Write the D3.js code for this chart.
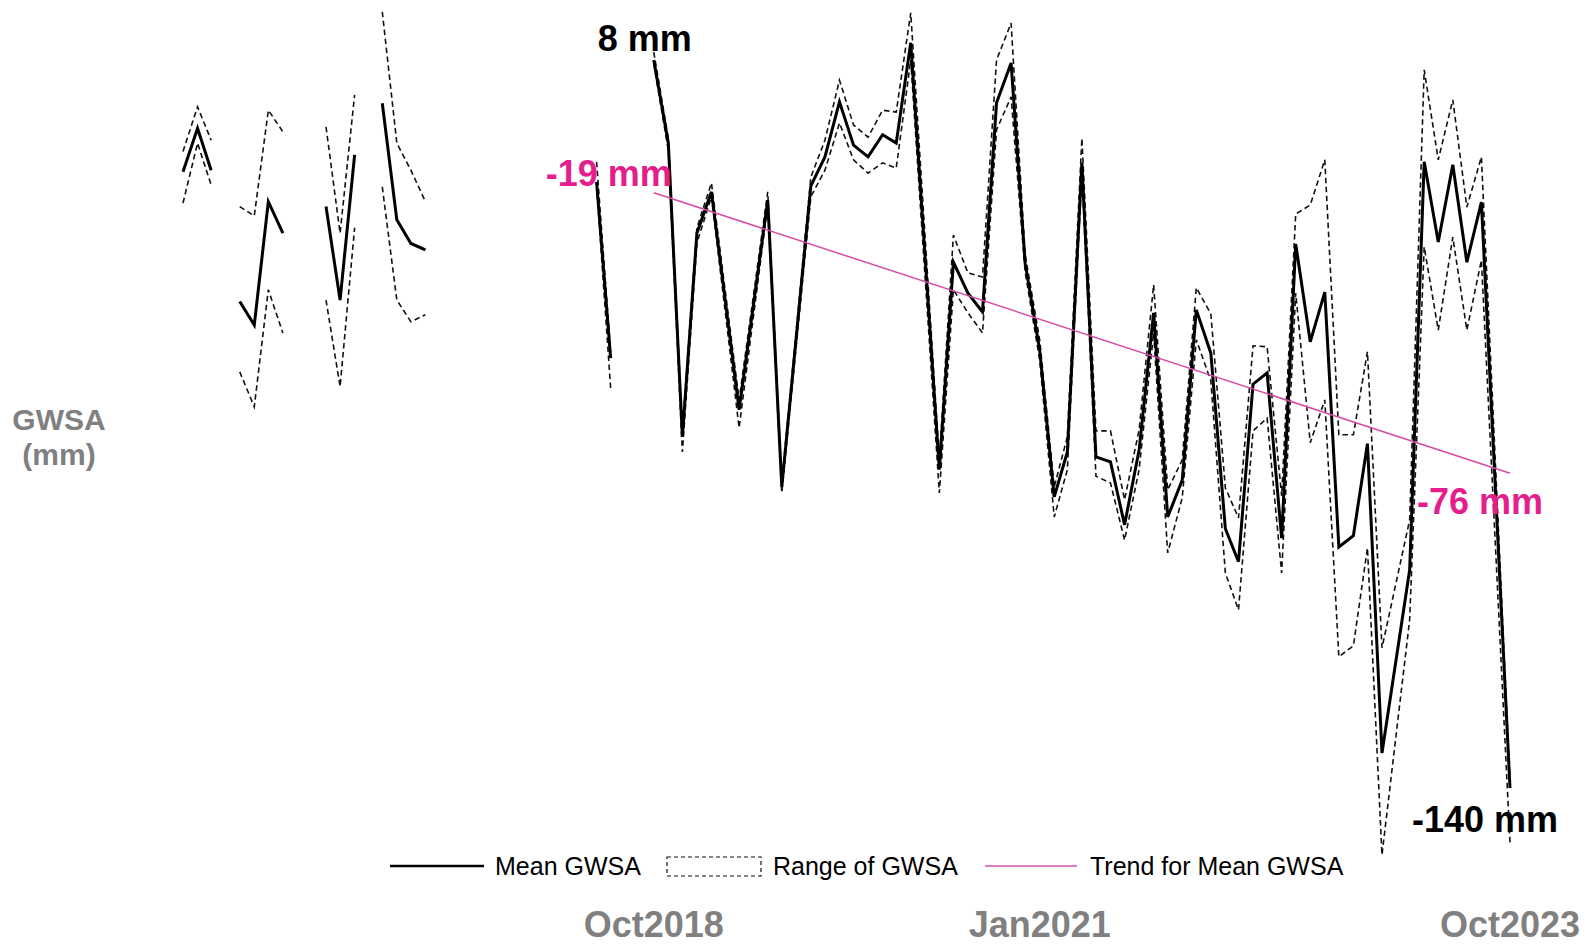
<!DOCTYPE html>
<html lang="en">
<head>
<meta charset="UTF-8">
<title>GWSA</title>
<style>
  body { margin: 0; background: #fff; }
  text { font-family: "Liberation Sans", Arial, sans-serif; }
</style>
</head>
<body>
<svg id="chart" width="1595" height="946"></svg>
<script src="https://cdn.jsdelivr.net/npm/d3@7/dist/d3.min.js"></script>
<script>
// monthly GWSA (mm); null = no data (line breaks), months left out are joined
let months = [
  "2016-01","2016-02","2016-03","2016-04","2016-05","2016-06","2016-07","2016-08",
  "2016-09","2016-10","2016-11","2016-12","2017-01","2017-02","2017-03","2017-04",
  "2017-05","2017-06","2017-07","2018-06","2018-07","2018-08",
  "2018-10","2018-11","2018-12","2019-01","2019-02","2019-04","2019-06","2019-07",
  "2019-09","2019-10","2019-11","2019-12","2020-01","2020-02","2020-03","2020-04",
  "2020-06","2020-07","2020-08","2020-09","2020-10","2020-11","2020-12","2021-01",
  "2021-02","2021-03","2021-04","2021-05","2021-06","2021-07","2021-08","2021-09",
  "2021-10","2021-11","2021-12","2022-01","2022-02","2022-03","2022-04","2022-05",
  "2022-06","2022-07","2022-08","2022-09","2022-10","2022-11","2022-12","2023-01",
  "2023-03","2023-04","2023-05","2023-06","2023-07","2023-08","2023-10"
]
let meanGwsa = [
  -14.7, -5.9, -14.4, null, -41.1, -45.9, -20.8, -27.2,
  null, null, -21.8, -40.8, -11.3, null, -0.8, -24.5,
  -29.3, -30.6, null, -16.8, -52.6, null,
  8, -8.9, -68.6, -27.2, -18.8, -63.1, -20.5, -78.8,
  -17.6, -11.7, -0.5, -9.3, -11.7, -7.2, -8.9, 11.5,
  -75.3, -33.1, -39.4, -43.2, -0.7, 7.4, -33.3, -51.0,
  -80.8, -71.7, -12.9, -72.7, -73.7, -86.5, -71.3, -43.4,
  -84.9, -77.4, -42.8, -51.6, -87.3, -94.0, -57.9, -55.6,
  -89.2, -29.4, -49.3, -39.2, -91.0, -88.7, -70.0, -132.9,
  -95.7, -12.7, -29.0, -13.3, -33.1, -20.9, -140
]
let upperGwsa = [
  -10.6, -1.5, -8.3, null, -21.8, -23.7, -2.2, -6.6,
  null, null, -5.6, -27.2, 0.9, null, 17.8, -8.9,
  -14.4, -20.8, null, -12.7, -51.4, null,
  9.6, -7.9, -67.2, -26.1, -17.0, -61.1, -18.8, -77.8,
  -15.8, -8.3, 3.9, -5.2, -7.7, -2.2, -2.6, 17.6,
  -73.3, -27.6, -35.3, -36.1, 8.0, 15.5, -31.6, -48.9,
  -78.8, -68.6, -7.9, -67.4, -67.4, -81.4, -67.2, -37.7,
  -79.4, -73.3, -38.3, -43.6, -79.0, -85.1, -50.1, -50.3,
  -80.6, -23.3, -21.5, -12.3, -68.2, -68.2, -51.3, -111.5,
  -85.5, 6.0, -12.3, -0.1, -21.9, -11.7, -139.0
]
let lowerGwsa = [
  -21.1, -8.9, -17.4, null, -55.4, -62.5, -38.7, -47.5,
  null, null, -40.8, -58.4, -26.1, null, -17.8, -40.8,
  -45.2, -43.8, null, -17.4, -58.7, null,
  7.2, -10.3, -71.7, -29.2, -19.8, -66.8, -21.5, -80.0,
  -19.8, -14.4, -4.8, -12.3, -15.0, -12.9, -14.0, 8.0,
  -80.0, -38.7, -43.4, -47.5, -6.2, 0.5, -35.1, -53.0,
  -84.9, -75.3, -15.0, -76.6, -78.0, -89.6, -75.3, -47.5,
  -92.2, -81.0, -48.9, -57.2, -96.3, -103.8, -67.4, -64.8,
  -96.3, -39.4, -69.8, -61.1, -113.3, -111.1, -91.2, -153.6,
  -105.8, -30.0, -46.9, -28.0, -46.9, -32.7, -151.1
]
// linear trend of the mean, start and end
let trendMonths = ["2018-10", "2023-10"]
let trendValues = [-19, -76]

let tickMonths = ["2018-10", "2021-01", "2023-10"]
let tickLabels = ["Oct2018", "Jan2021", "Oct2023"]

let legendLabels = ["Mean GWSA", "Range of GWSA", "Trend for Mean GWSA"]

let parse = d3.timeParse("%Y-%m")
let svg = d3.select("#chart")
let pink = "#d64aa8"
let pinkText = "#e41f8d"
let grey = "#808080"

let x = d3.scaleTime()
  .domain([parse("2016-01"), parse("2023-10")])
  .range([183, 1510])
let y = d3.scaleLinear()
  .domain([-140, 8])
  .range([788, 60])

function series(values) {
  return months.map((m, i) => ({ date: parse(m), v: values[i] }))
}

let line = d3.line()
  .defined(d => d.v != null)
  .x(d => x(d.date))
  .y(d => y(d.v))

let plot = svg.append("g")

// range (dashed)
for (let vals of [upperGwsa, lowerGwsa]) {
  plot.append("path")
    .attr("d", line(series(vals)))
    .attr("fill", "none")
    .attr("stroke", "#111")
    .attr("stroke-width", 1.6)
    .attr("stroke-dasharray", "5.5,3.5")
}

// mean
plot.append("path")
  .attr("d", line(series(meanGwsa)))
  .attr("fill", "none")
  .attr("stroke", "#000")
  .attr("stroke-width", 3)
  .attr("stroke-linejoin", "miter")

// trend
let trend = trendMonths.map((m, i) => ({ date: parse(m), v: trendValues[i] }))
plot.append("path")
  .attr("d", line(trend))
  .attr("fill", "none")
  .attr("stroke", pink)
  .attr("stroke-width", 1.5)

// value annotations
let first = series(meanGwsa).find(d => d.date.getTime() == parse("2018-10").getTime())
let last = series(meanGwsa)[months.length - 1]

svg.append("text")
  .attr("x", x(first.date) - 9).attr("y", y(first.v) - 9)
  .attr("text-anchor", "middle")
  .attr("font-size", 36).attr("font-weight", "bold")
  .text(first.v + " mm")

svg.append("text")
  .attr("x", x(last.date) - 25).attr("y", y(last.v) + 44)
  .attr("text-anchor", "middle")
  .attr("font-size", 36).attr("font-weight", "bold")
  .text(last.v + " mm")

svg.append("text")
  .attr("x", x(trend[0].date) + 18).attr("y", y(trend[0].v) - 7)
  .attr("text-anchor", "end")
  .attr("font-size", 36).attr("font-weight", "bold")
  .attr("fill", pinkText)
  .text(trend[0].v + " mm")

svg.append("text")
  .attr("x", x(trend[1].date) - 93).attr("y", y(trend[1].v) + 41)
  .attr("font-size", 36).attr("font-weight", "bold")
  .attr("fill", pinkText)
  .text(trend[1].v + " mm")

// y axis title
svg.append("text")
  .attr("x", 59).attr("y", 430)
  .attr("text-anchor", "middle")
  .attr("font-size", 30).attr("font-weight", "bold")
  .attr("fill", grey)
  .text("GWSA")
svg.append("text")
  .attr("x", 59).attr("y", 465)
  .attr("text-anchor", "middle")
  .attr("font-size", 30).attr("font-weight", "bold")
  .attr("fill", grey)
  .text("(mm)")

// x tick labels
svg.append("g").selectAll("text")
  .data(tickMonths)
  .enter().append("text")
  .attr("x", d => x(parse(d)))
  .attr("y", 937)
  .attr("text-anchor", "middle")
  .attr("font-size", 36).attr("font-weight", "bold")
  .attr("fill", grey)
  .text((d, i) => tickLabels[i])

// legend
let lg = svg.append("g").attr("font-size", 25)
lg.append("line")
  .attr("x1", 390).attr("x2", 484).attr("y1", 866).attr("y2", 866)
  .attr("stroke", "#000").attr("stroke-width", 2.5)
lg.append("text").attr("x", 495).attr("y", 875).text(legendLabels[0])
lg.append("rect")
  .attr("x", 667).attr("y", 857).attr("width", 94).attr("height", 19)
  .attr("fill", "none").attr("stroke", "#111").attr("stroke-width", 1.2)
  .attr("stroke-dasharray", "4,3")
lg.append("text").attr("x", 773).attr("y", 875).text(legendLabels[1])
lg.append("line")
  .attr("x1", 985).attr("x2", 1077).attr("y1", 866).attr("y2", 866)
  .attr("stroke", "#e07cc0").attr("stroke-width", 2)
lg.append("text").attr("x", 1090).attr("y", 875).text(legendLabels[2])
</script>
</body>
</html>
